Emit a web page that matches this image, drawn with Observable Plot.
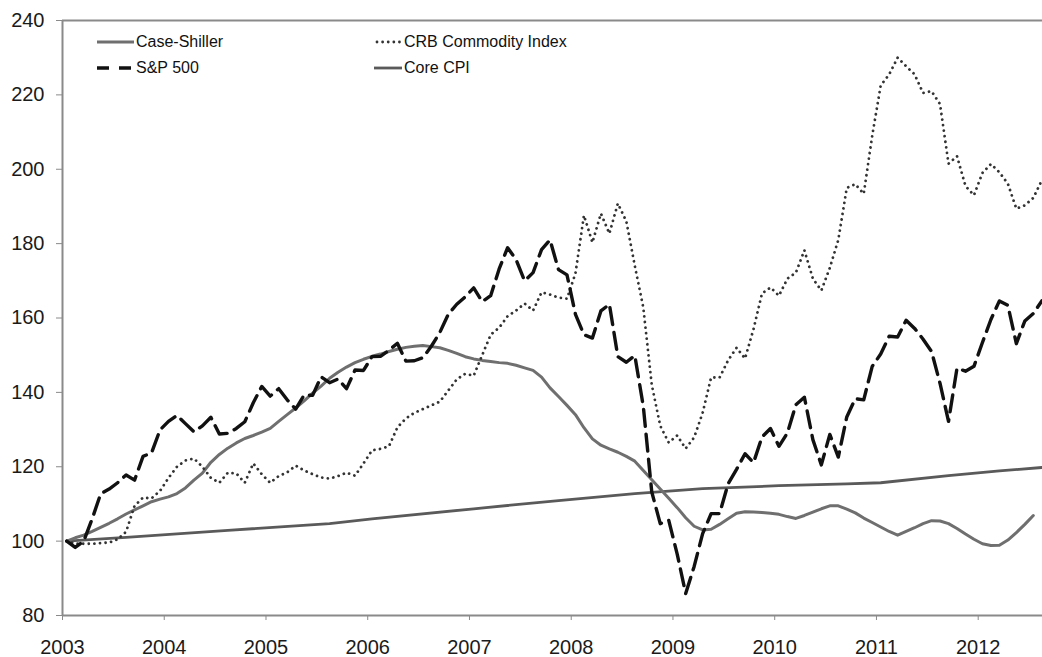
<!DOCTYPE html>
<html>
<head>
<meta charset="utf-8">
<script src="https://cdn.jsdelivr.net/npm/d3@7"></script>
<script src="https://cdn.jsdelivr.net/npm/@observablehq/plot@0.6"></script>
<style>
  html, body { margin: 0; padding: 0; background: #fff; }
  #wrap { position: relative; width: 1042px; height: 657px; font-family: "Liberation Sans", Arial, sans-serif; }
  .item { position: absolute; height: 20px; display: flex; align-items: center; font-size: 16px; color: #111; white-space: nowrap; }
  .item svg { display: block; }
</style>
</head>
<body>
<div id="wrap"></div>
<script>
// ---- data (index values, January 2003 = 100), monthly from Jan 2003 ----
const startYear = 2003;
const seriesNames = ["Case-Shiller", "CRB Commodity Index", "S&P 500", "Core CPI"];
const yearTicks = [2003, 2004, 2005, 2006, 2007, 2008, 2009, 2010, 2011, 2012];
const valueTicks = [80, 100, 120, 140, 160, 180, 200, 220, 240];

const sp500 = [
  100, 98.3, 100, 106, 112.7, 114, 115.7, 117.8, 116.4, 122.8, 123.7, 129.9,
  132.2, 133.8, 131.6, 129.4, 131, 133.3, 128.8, 129, 130.3, 132.1, 137.2, 141.6,
  139, 141, 138, 135.5, 139.3, 139.2, 144.2, 142.6, 143.6, 141, 146, 145.9,
  149.6, 149.7, 151.3, 153.2, 148.4, 148.5, 149.3, 152.4, 156.1, 161, 163.7, 165.7,
  168.1, 164.4, 166, 173.2, 178.9, 175.7, 170, 172.2, 178.4, 181, 173, 171.6,
  161, 155.5, 154.6, 161.9, 163.7, 149.6, 148.1, 149.9, 136.3, 113.2, 104.7, 105.6,
  96.5, 85.9, 93.2, 102, 107.4, 107.4, 115.4, 119.3, 123.5, 121.1, 128, 130.3,
  125.5, 129.1, 136.7, 138.7, 127.3, 120.5, 128.7, 122.6, 133.4, 138.3, 138, 147,
  150.3, 155.1, 154.9, 159.4, 157.2, 154.3, 151, 142.4, 132.2, 146.5, 145.7, 147,
  153.4, 159.6, 164.6, 163.4, 153.1, 159.2, 161.2, 164.6
];

const crb = [
  100, 99.3, 99.3, 99.3, 99.5, 99.6, 100.5, 102.5, 109.5, 111.7, 111.5, 113.5,
  117, 120, 121.7, 122.2, 120, 117, 115.7, 118.4, 118.2, 115.7, 120.9, 118,
  115.7, 117.5, 118.5, 120.3, 119, 118, 117.1, 116.8, 117.5, 118.4, 117.6, 120.9,
  124.4, 124.8, 125.5, 130.6, 133, 134.5, 135.5, 136.5, 137.5, 140.5, 143.5, 145,
  144.5, 150, 155.5, 157.4, 160.5, 162, 163.9, 162, 166.9, 166.3, 165.5, 165.2,
  172, 187.6, 180.3, 188.1, 182.7, 190.8, 186, 174, 162.8, 142, 131, 126.5,
  128.4, 124.9, 127.9, 134.5, 144, 144, 148.6, 152, 149.1, 157, 166.6, 168.2,
  166, 170.6, 172.2, 178.2, 170.6, 167.4, 173.5, 181, 195, 196, 193.4, 209,
  222.5, 225.5, 230, 227.7, 225.5, 220.5, 221, 217.5, 201.5, 203.5, 195.5, 193,
  199, 201.4, 199.2, 196.1, 189.4, 190.3, 192.3, 197
];

const caseShiller = [
  100, 100.9, 101.6, 102.6, 103.7, 104.8, 106, 107.3, 108.4, 109.5, 110.6, 111.3,
  111.9, 112.8, 114.3, 116.4, 118.3, 121.2, 123.3, 125, 126.4, 127.6, 128.4, 129.3,
  130.3, 132.2, 134, 135.8, 137.7, 139.8, 141.7, 143.8, 145.4, 146.8, 148, 148.9,
  149.7, 150.3, 151, 151.6, 152.1, 152.4, 152.6, 152.3, 152, 151.3, 150.5, 149.6,
  149, 148.6, 148.3, 148, 147.8, 147.3, 146.6, 145.9, 144.1, 141.2, 138.9, 136.5,
  134, 130.5, 127.5, 125.8, 124.8, 123.9, 122.8, 121.5, 119, 116.5, 114, 111.5,
  109, 106.3, 104, 103, 103.2, 104.5, 106, 107.5, 107.9, 107.8, 107.7, 107.5,
  107.2, 106.6, 106.1, 106.9, 107.8, 108.7, 109.5, 109.5, 108.6, 107.6, 106.2, 105,
  103.8, 102.6, 101.6, 102.6, 103.6, 104.7, 105.5, 105.4, 104.7, 103.4, 101.9, 100.5,
  99.3, 98.8, 98.9, 100.3, 102.3, 104.5, 106.9
];

// Core CPI read at selected months (month index from Jan 2003)
const cpiMonths = [0, 7, 19, 31, 36, 48, 58, 67, 75, 84, 92, 96, 104, 110, 115];
const cpiValues = [100, 101, 102.9, 104.7, 106, 108.7, 110.9, 112.8, 114.1, 114.9, 115.4, 115.7, 117.6, 118.9, 119.8];

// ---- build rows ----
const monthToYear = (m) => startYear + (m + 0.5) / 12;
const rows = (values, name) => values.map((v, i) => ({ t: monthToYear(i), v, name }));
const csRows = rows(caseShiller, seriesNames[0]);
const crbRows = rows(crb, seriesNames[1]);
const spRows = rows(sp500, seriesNames[2]);
const cpiRows = cpiMonths.map((m, i) => ({ t: monthToYear(m), v: cpiValues[i], name: seriesNames[3] }));

const styles = {
  "Case-Shiller": { stroke: "#6f6f6f", strokeWidth: 3 },
  "CRB Commodity Index": { stroke: "#333", strokeWidth: 2.8, strokeDasharray: "0.01 5.6", strokeLinecap: "round" },
  "S&P 500": { stroke: "#111", strokeWidth: 3.4, strokeDasharray: "17 8" },
  "Core CPI": { stroke: "#5a5a5a", strokeWidth: 2.8 }
};

const axisGray = "#8a8a8a";

const chart = Plot.plot({
  width: 1042,
  height: 657,
  marginLeft: 62,
  marginRight: 0,
  marginTop: 20,
  marginBottom: 42,
  style: { fontFamily: '"Liberation Sans", Arial, sans-serif', fontSize: "20px", color: "#1a1a1a", background: "#fff" },
  x: { type: "linear", domain: [2003, 2012.632], ticks: yearTicks, tickFormat: "d", tickSize: 5, tickPadding: 19, label: null },
  y: { domain: [80, 240], ticks: valueTicks, tickSize: 6, tickPadding: 12, label: null },
  marks: [
    Plot.ruleY([240], { stroke: axisGray, strokeWidth: 2 }),
    Plot.ruleY([80], { stroke: axisGray, strokeWidth: 2 }),
    Plot.ruleX([2003], { stroke: axisGray, strokeWidth: 2 }),
    Plot.line(cpiRows, { x: "t", y: "v", ...styles["Core CPI"] }),
    Plot.line(csRows, { x: "t", y: "v", ...styles["Case-Shiller"] }),
    Plot.line(crbRows, { x: "t", y: "v", ...styles["CRB Commodity Index"] }),
    Plot.line(spRows, { x: "t", y: "v", ...styles["S&P 500"] })
  ]
});
// tick colour
chart.querySelectorAll('[aria-label="x-axis tick"], [aria-label="y-axis tick"]').forEach(g => g.setAttribute("stroke", axisGray));

const wrap = document.getElementById("wrap");
wrap.appendChild(chart);

// ---- legend (inside plot area, as in the original) ----
const legendLayout = {
  "Case-Shiller": { left: 97, cy: 42, sw: 38, x1: 0, x2: 37 },
  "S&P 500": { left: 97, cy: 68, sw: 38, x1: 0, x2: 34 },
  "CRB Commodity Index": { left: 374, cy: 42, sw: 29, x1: 3, x2: 27 },
  "Core CPI": { left: 374, cy: 68, sw: 29, x1: 0, x2: 28 }
};
const ns = "http://www.w3.org/2000/svg";
for (const name of seriesNames) {
  const L = legendLayout[name];
  const s = styles[name];
  const item = document.createElement("div");
  item.className = "item";
  item.style.left = L.left + "px";
  item.style.top = (L.cy - 10) + "px";
  const svg = document.createElementNS(ns, "svg");
  svg.setAttribute("width", L.sw);
  svg.setAttribute("height", 10);
  const ln = document.createElementNS(ns, "line");
  ln.setAttribute("x1", L.x1);
  ln.setAttribute("x2", L.x2);
  ln.setAttribute("y1", 5);
  ln.setAttribute("y2", 5);
  ln.setAttribute("stroke", s.stroke);
  ln.setAttribute("stroke-width", s.strokeWidth);
  if (name === "S&P 500") ln.setAttribute("stroke-dasharray", "12 10");
  else if (s.strokeDasharray) ln.setAttribute("stroke-dasharray", s.strokeDasharray);
  if (s.strokeLinecap) ln.setAttribute("stroke-linecap", s.strokeLinecap);
  svg.appendChild(ln);
  const txt = document.createElement("span");
  txt.textContent = name;
  txt.style.marginLeft = "1px";
  item.appendChild(svg);
  item.appendChild(txt);
  wrap.appendChild(item);
}
</script>
</body>
</html>
